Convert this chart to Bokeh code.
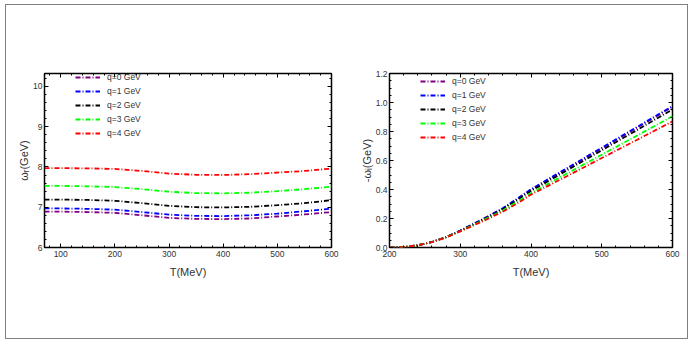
from bokeh.plotting import figure
from bokeh.models import Range1d, FixedTicker, LinearAxis, Legend, LegendItem, PrintfTickFormatter
from bokeh.layouts import row
from bokeh.embed import file_html
from bokeh.resources import INLINE

labels = ["q=0 GeV", "q=1 GeV", "q=2 GeV", "q=3 GeV", "q=4 GeV"]
colors = ["#800080", "#0000ff", "#000000", "#00ff00", "#ff0000"]

# Left panel: omega_R vs T
T_left = [70, 100, 150, 200, 250, 300, 350, 400, 450, 500, 550, 600]
wR_q0 = [6.89, 6.89, 6.88, 6.86, 6.80, 6.735, 6.71, 6.705, 6.72, 6.77, 6.82, 6.88]
wR_q1 = [6.97, 6.97, 6.96, 6.94, 6.88, 6.815, 6.785, 6.78, 6.80, 6.84, 6.90, 6.965]
wR_q2 = [7.19, 7.19, 7.18, 7.16, 7.10, 7.035, 7.00, 6.995, 7.01, 7.05, 7.10, 7.175]
wR_q3 = [7.53, 7.53, 7.52, 7.50, 7.45, 7.385, 7.35, 7.345, 7.36, 7.40, 7.45, 7.51]
wR_q4 = [7.97, 7.97, 7.965, 7.95, 7.90, 7.835, 7.805, 7.80, 7.82, 7.86, 7.90, 7.96]

# Right panel: -omega_I vs T
T_right = [200, 220, 240, 260, 280, 300, 320, 340, 360, 380, 400, 450, 500, 550, 600]
wI_q0 = [0, 0.003, 0.015, 0.038, 0.072, 0.117, 0.165, 0.216, 0.268, 0.332, 0.398, 0.54, 0.682, 0.826, 0.97]
wI_q1 = [0, 0.003, 0.015, 0.038, 0.072, 0.117, 0.166, 0.217, 0.27, 0.335, 0.402, 0.545, 0.688, 0.832, 0.975]
wI_q2 = [0, 0.003, 0.015, 0.038, 0.071, 0.115, 0.163, 0.212, 0.263, 0.325, 0.39, 0.53, 0.67, 0.81, 0.952]
wI_q3 = [0, 0.003, 0.015, 0.037, 0.07, 0.113, 0.159, 0.206, 0.255, 0.314, 0.375, 0.508, 0.64, 0.772, 0.905]
wI_q4 = [0, 0.003, 0.015, 0.037, 0.069, 0.111, 0.155, 0.2, 0.247, 0.302, 0.365, 0.49, 0.617, 0.743, 0.87]

left_xticks = [100, 200, 300, 400, 500, 600]
left_xminor = list(range(80, 601, 20))
left_yticks = [6, 7, 8, 9, 10]
left_yminor = [6 + 0.2 * i for i in range(22)]
right_xticks = [200, 300, 400, 500, 600]
right_xminor = list(range(200, 601, 20))
right_yticks = [0.0, 0.2, 0.4, 0.6, 0.8, 1.0, 1.2]
right_yminor = [0.05 * i for i in range(25)]

FONT = "Liberation Sans"
TXT = "#333333"
DASH = "5 2 1 2"


def style_axis(ax, show_labels, ticks):
    ax.axis_line_color = None
    ax.major_tick_in = 4
    ax.major_tick_out = 0
    ax.minor_tick_in = 2
    ax.minor_tick_out = 0
    ax.major_tick_line_color = "black"
    ax.minor_tick_line_color = "black"
    ax.major_label_text_font = FONT
    ax.major_label_text_color = TXT
    ax.axis_label_text_font = FONT
    ax.axis_label_text_color = TXT
    ax.axis_label_text_font_style = "normal"
    ax.axis_label_text_font_size = "11px"
    ax.major_label_text_font_size = "8.5px"
    if show_labels:
        ax.major_label_standoff = 2
    else:
        ax.major_label_standoff = 0
        ax.major_label_overrides = {t: "" for t in ticks}


def make_panel(w, h, xr, yr, xt, xm, yt, ym, borders, xlabel, ylabel, T, ys, legend_loc, yfmt=None):
    p = figure(width=w, height=h, output_backend="svg", toolbar_location=None,
               x_range=Range1d(*xr), y_range=Range1d(*yr),
               min_border_left=borders[0], min_border_right=borders[1],
               min_border_top=borders[2], min_border_bottom=borders[3])
    p.grid.visible = False
    p.outline_line_color = "black"
    p.outline_line_width = 1.5
    p.outline_line_alpha = 1
    p.background_fill_color = "white"
    p.border_fill_color = "white"
    xtick = FixedTicker(ticks=xt, minor_ticks=xm)
    ytick = FixedTicker(ticks=yt, minor_ticks=ym)
    p.xaxis.ticker = xtick
    p.yaxis.ticker = ytick
    if yfmt:
        p.yaxis.formatter = PrintfTickFormatter(format=yfmt)
    for ax in p.xaxis:
        style_axis(ax, True, xt)
    for ax in p.yaxis:
        style_axis(ax, True, yt)
    p.xaxis.major_label_standoff = 3
    p.xaxis.axis_label = xlabel
    p.yaxis.axis_label = ylabel
    p.xaxis.axis_label_standoff = 6
    p.yaxis.axis_label_standoff = 0
    top = LinearAxis(ticker=xtick)
    right = LinearAxis(ticker=ytick)
    style_axis(top, False, xt)
    style_axis(right, False, yt)
    p.add_layout(top, "above")
    p.add_layout(right, "right")
    items = []
    for lab, col, y in zip(labels, colors, ys):
        r = p.line(T, y, line_color=col, line_width=1.8, line_dash=DASH)
        items.append(LegendItem(label=lab, renderers=[r]))
    leg = Legend(items=items, location=legend_loc, glyph_width=25, glyph_height=12,
                 label_height=12, label_standoff=7, spacing=2, padding=0, margin=0,
                 border_line_alpha=0, background_fill_alpha=0,
                 label_text_font=FONT, label_text_font_size="8.5px", label_text_color=TXT)
    p.add_layout(leg)
    return p


p1 = make_panel(341, 333, (70, 600), (6, 10.32), left_xticks, left_xminor, left_yticks, left_yminor,
                (38, 16, 64, 91), "T(MeV)", "ωᵣ(GeV)", T_left,
                [wR_q0, wR_q1, wR_q2, wR_q3, wR_q4], (31, 108))
p2 = make_panel(340, 333, (200, 600), (0, 1.2), right_xticks, right_xminor, right_yticks, right_yminor,
                (42, 15, 68, 90), "T(MeV)", "-ωᵢ(GeV)", T_right,
                [wI_q0, wI_q1, wI_q2, wI_q3, wI_q4], (31, 104), yfmt="%.1f")

layout = row(p1, p2, styles={"border": "1.5px solid #7f7f7f", "background-color": "white",
                             "margin-left": "5px", "margin-top": "4px"})

open("out.html", "w").write(file_html(layout, INLINE))
